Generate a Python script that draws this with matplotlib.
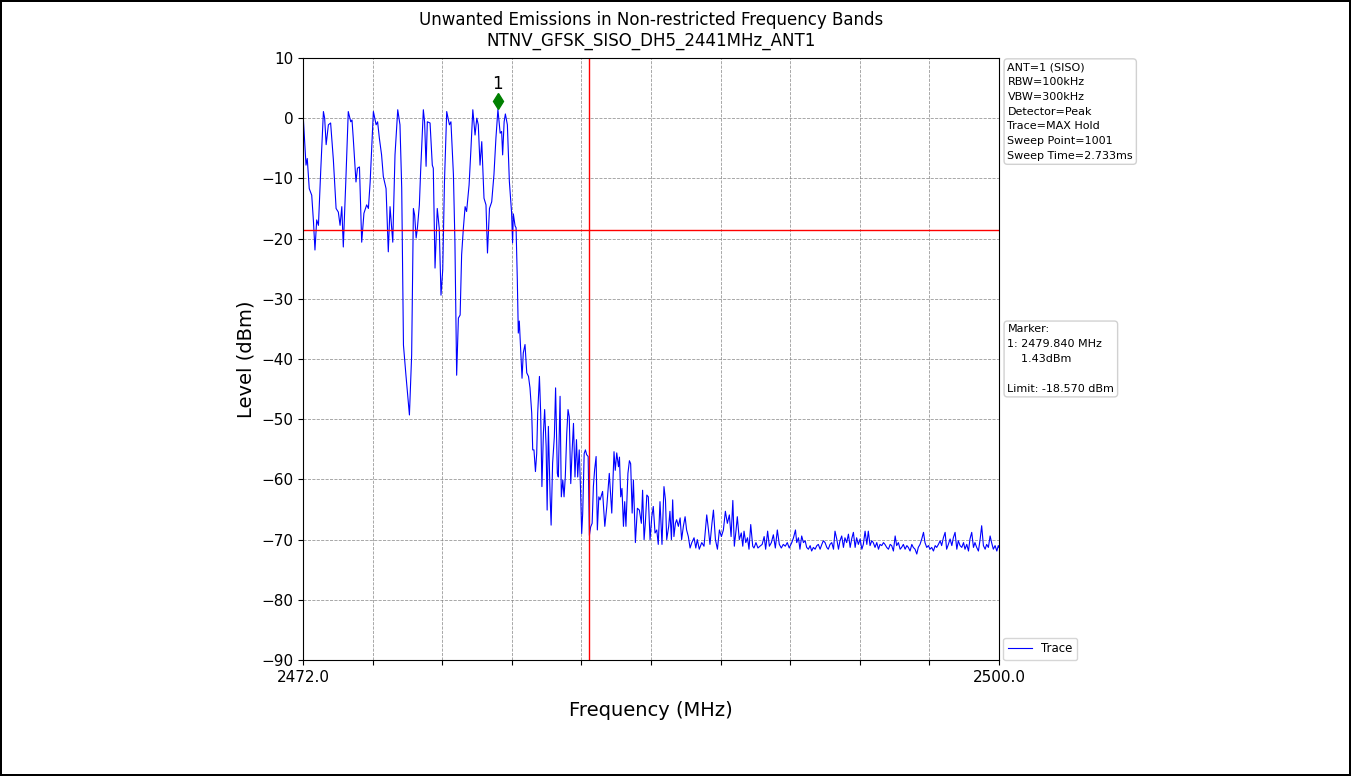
import matplotlib
matplotlib.use("Agg")
import matplotlib.pyplot as plt
import matplotlib.transforms as mtransforms
import numpy as np

# ─── Trace (MHz, dBm) ──────────────────────────────────────────────────────
freq_mhz = [
    2472.00, 2472.12, 2472.17, 2472.25, 2472.35, 2472.42, 2472.48, 2472.55, 2472.62, 2472.71,
    2472.82, 2472.87, 2472.93, 2473.02, 2473.11, 2473.22, 2473.33, 2473.42, 2473.49, 2473.56,
    2473.62, 2473.72, 2473.82, 2473.92, 2473.97, 2474.02, 2474.13, 2474.19, 2474.27, 2474.36,
    2474.45, 2474.56, 2474.63, 2474.70, 2474.83, 2474.94, 2475.00, 2475.07, 2475.16, 2475.23,
    2475.34, 2475.43, 2475.50, 2475.61, 2475.70, 2475.81, 2475.90, 2475.97, 2476.04, 2476.14,
    2476.28, 2476.37, 2476.44, 2476.49, 2476.55, 2476.60, 2476.68, 2476.73, 2476.84, 2476.89,
    2476.95, 2477.00, 2477.11, 2477.20, 2477.24, 2477.31, 2477.40, 2477.48, 2477.55, 2477.62,
    2477.69, 2477.78, 2477.89, 2477.95, 2478.05, 2478.11, 2478.18, 2478.25, 2478.32, 2478.38,
    2478.45, 2478.52, 2478.58, 2478.68, 2478.75, 2478.83, 2478.92, 2478.99, 2479.05, 2479.12,
    2479.19, 2479.28, 2479.36, 2479.42, 2479.50, 2479.59, 2479.68, 2479.76, 2479.84, 2479.93,
    2479.99, 2480.03, 2480.09, 2480.14, 2480.22, 2480.30, 2480.39, 2480.43, 2480.46, 2480.53,
    2480.57, 2480.62, 2480.66, 2480.70, 2480.76, 2480.81, 2480.86, 2480.93, 2481.00, 2481.07,
    2481.13, 2481.20, 2481.24, 2481.29, 2481.35, 2481.40, 2481.44, 2481.51, 2481.56, 2481.61,
    2481.67, 2481.72, 2481.78, 2481.82, 2481.87, 2481.94, 2481.98, 2482.04, 2482.11, 2482.16,
    2482.23, 2482.27, 2482.34, 2482.39, 2482.45, 2482.50, 2482.55, 2482.61, 2482.66, 2482.71,
    2482.77, 2482.82, 2482.88, 2482.94, 2483.00, 2483.05, 2483.11, 2483.16, 2483.21, 2483.25,
    2483.31, 2483.36, 2483.41, 2483.47, 2483.52, 2483.57, 2483.63, 2483.68, 2483.73, 2483.79,
    2483.84, 2483.90, 2483.95, 2484.05, 2484.14, 2484.22, 2484.32, 2484.42, 2484.51, 2484.56,
    2484.62, 2484.69, 2484.73, 2484.78, 2484.83, 2484.89, 2484.94, 2484.99, 2485.07, 2485.13,
    2485.18, 2485.24, 2485.29, 2485.37, 2485.45, 2485.53, 2485.61, 2485.66, 2485.72, 2485.77,
    2485.83, 2485.89, 2485.96, 2486.03, 2486.09, 2486.16, 2486.23, 2486.29, 2486.36, 2486.44,
    2486.52, 2486.58, 2486.63, 2486.71, 2486.76, 2486.82, 2486.87, 2486.92, 2486.98, 2487.03,
    2487.10, 2487.17, 2487.23, 2487.30, 2487.37, 2487.43, 2487.50, 2487.57, 2487.64, 2487.73,
    2487.80, 2487.86, 2487.94, 2488.04, 2488.13, 2488.24, 2488.31, 2488.37, 2488.45, 2488.51,
    2488.59, 2488.67, 2488.75, 2488.83, 2488.91, 2488.99, 2489.07, 2489.15, 2489.22, 2489.29,
    2489.35, 2489.42, 2489.47, 2489.55, 2489.63, 2489.69, 2489.74, 2489.81, 2489.88, 2489.94,
    2490.01, 2490.09, 2490.14, 2490.22, 2490.30, 2490.38, 2490.47, 2490.55, 2490.61, 2490.69,
    2490.76, 2490.84, 2490.92, 2491.00, 2491.08, 2491.16, 2491.24, 2491.32, 2491.40, 2491.48,
    2491.56, 2491.66, 2491.73, 2491.81, 2491.86, 2491.93, 2491.99, 2492.06, 2492.13, 2492.20,
    2492.26, 2492.33, 2492.40, 2492.46, 2492.53, 2492.60, 2492.67, 2492.73, 2492.80, 2492.87,
    2492.93, 2493.00, 2493.07, 2493.13, 2493.20, 2493.27, 2493.34, 2493.40, 2493.47, 2493.54,
    2493.60, 2493.67, 2493.74, 2493.80, 2493.87, 2493.94, 2494.01, 2494.07, 2494.14, 2494.21,
    2494.27, 2494.34, 2494.41, 2494.48, 2494.54, 2494.61, 2494.68, 2494.74, 2494.81, 2494.88,
    2494.94, 2495.01, 2495.08, 2495.15, 2495.21, 2495.28, 2495.35, 2495.41, 2495.48, 2495.55,
    2495.62, 2495.68, 2495.75, 2495.82, 2495.88, 2495.95, 2496.02, 2496.08, 2496.15, 2496.22,
    2496.29, 2496.35, 2496.42, 2496.49, 2496.55, 2496.62, 2496.69, 2496.75, 2496.82, 2496.89,
    2496.96, 2497.02, 2497.09, 2497.16, 2497.22, 2497.29, 2497.36, 2497.43, 2497.49, 2497.56,
    2497.63, 2497.69, 2497.76, 2497.83, 2497.89, 2497.96, 2498.03, 2498.10, 2498.16, 2498.23,
    2498.30, 2498.36, 2498.43, 2498.50, 2498.57, 2498.63, 2498.70, 2498.77, 2498.83, 2498.90,
    2498.97, 2499.03, 2499.10, 2499.17, 2499.24, 2499.30, 2499.37, 2499.44, 2499.50, 2499.57,
    2499.64, 2499.70, 2499.77, 2499.84, 2499.91, 2499.97, 2500.00,
]
level_dbm = [
    0.8, -7.8, -6.7, -11.7, -12.8, -17.2, -21.9, -16.9, -17.8, -8.9,
    1.1, 0.0, -4.4, -1.1, -0.8, -6.9, -15.0, -15.6, -17.8, -14.7,
    -21.4, -10.6, 1.1, -0.6, -0.3, -3.3, -10.6, -8.3, -8.1, -20.6,
    -15.8, -14.4, -15.0, -10.6, 1.1, -1.1, -0.6, -3.3, -6.1, -9.7,
    -11.7, -22.2, -14.7, -20.6, -6.1, 1.4, -1.1, -11.6, -37.7, -42.7,
    -49.3, -39.3, -15.0, -16.1, -19.9, -18.3, -14.4, -8.9, 1.4, -0.6,
    -8.0, -0.6, -0.8, -7.8, -8.3, -24.9, -15.0, -18.3, -29.4, -25.2,
    -10.5, 1.1, -1.1, -0.6, -9.4, -20.5, -42.7, -33.2, -32.7, -22.7,
    -18.3, -14.7, -15.5, -11.1, -5.5, 1.4, -2.8, 0.0, -1.1, -7.8,
    -3.9, -13.3, -14.4, -22.4, -15.0, -13.9, -9.4, -3.3, 1.43, -2.5,
    -2.2, -6.1, -0.6, 0.7, -1.1, -10.5, -15.7, -20.7, -15.9, -17.9,
    -18.2, -26.8, -35.7, -33.7, -39.0, -43.2, -39.0, -37.6, -42.3, -42.9,
    -44.8, -49.0, -55.1, -55.1, -58.7, -55.7, -49.0, -42.9, -49.0, -61.2,
    -52.3, -48.4, -54.6, -65.1, -51.2, -62.9, -67.6, -57.3, -52.9, -44.8,
    -59.0, -59.6, -46.2, -62.9, -60.1, -62.9, -59.6, -52.3, -48.4, -49.6,
    -60.7, -55.7, -50.7, -59.6, -53.4, -59.6, -55.1, -61.2, -69.0, -65.7,
    -55.7, -55.1, -55.9, -56.2, -69.3, -67.9, -67.3, -61.2, -58.4, -56.2,
    -68.4, -62.9, -63.4, -62.0, -67.8, -64.5, -59.0, -65.6, -55.4, -58.5,
    -55.6, -57.9, -56.3, -62.9, -61.5, -67.8, -63.7, -67.8, -59.0, -56.9,
    -57.4, -65.6, -60.1, -70.5, -64.8, -65.1, -67.3, -61.8, -70.0, -67.3,
    -62.6, -62.9, -70.0, -66.2, -64.5, -68.9, -68.4, -70.8, -63.7, -70.8,
    -61.2, -63.4, -70.0, -67.8, -65.3, -70.0, -63.4, -69.5, -67.3, -66.7,
    -67.8, -66.4, -70.0, -67.8, -66.2, -68.4, -69.5, -71.4, -70.5, -69.7,
    -71.4, -70.0, -71.6, -70.5, -71.1, -65.9, -68.4, -70.8, -67.3, -65.1,
    -70.0, -71.6, -68.4, -69.5, -68.4, -65.3, -67.3, -65.9, -69.5, -63.5,
    -71.1, -68.4, -66.2, -70.0, -68.9, -71.1, -68.6, -70.5, -69.7, -71.6,
    -67.5, -71.1, -71.4, -70.5, -71.4, -71.1, -70.8, -69.5, -71.6, -68.6,
    -71.1, -70.5, -69.2, -71.4, -68.4, -70.8, -71.4, -70.8, -71.1, -70.5,
    -71.4, -70.5, -69.7, -68.4, -70.5, -69.7, -71.6, -69.4, -70.5, -70.2,
    -71.3, -71.6, -71.0, -71.9, -71.3, -71.6, -71.0, -70.8, -71.6, -70.8,
    -70.2, -70.5, -71.3, -71.6, -70.8, -70.5, -71.6, -68.6, -69.9, -71.6,
    -70.2, -69.4, -71.3, -69.7, -70.5, -69.1, -71.3, -69.9, -68.8, -71.3,
    -69.7, -70.8, -69.9, -71.6, -70.8, -68.6, -70.8, -68.6, -71.0, -70.2,
    -70.5, -71.3, -70.5, -71.6, -70.8, -71.0, -70.5, -70.8, -71.3, -71.6,
    -70.8, -71.0, -71.9, -69.4, -71.0, -70.5, -71.6, -71.3, -70.8, -71.6,
    -71.0, -71.3, -71.9, -70.8, -71.3, -71.6, -72.4, -71.3, -70.8, -69.9,
    -68.8, -70.5, -71.3, -71.0, -71.6, -71.3, -71.9, -71.0, -71.3, -70.8,
    -70.2, -71.0, -69.7, -68.8, -71.6, -70.8, -69.9, -71.0, -69.7, -68.8,
    -71.6, -70.2, -71.0, -71.3, -70.5, -71.6, -70.8, -71.9, -69.9, -68.8,
    -71.3, -70.5, -71.3, -71.9, -69.9, -67.7, -71.0, -71.6, -70.8, -71.3,
    -69.4, -70.5, -71.6, -71.0, -71.9, -71.0, -71.3,
]

# ─── Measurement settings ──────────────────────────────────────────────────
START_MHZ = 2472.0
STOP_MHZ = 2500.0
BAND_EDGE_MHZ = 2483.5
LIMIT_DBM = -18.570
MARKER_MHZ = 2479.840
MARKER_DBM = 1.43

SETTINGS = [
    "ANT=1 (SISO)",
    "RBW=100kHz",
    "VBW=300kHz",
    "Detector=Peak",
    "Trace=MAX Hold",
    "Sweep Point=1001",
    "Sweep Time=2.733ms",
]

x_ticks = np.linspace(START_MHZ, STOP_MHZ, 11)
x_tick_labels = [f"{START_MHZ:.1f}"] + [""] * 9 + [f"{STOP_MHZ:.1f}"]
y_ticks = np.arange(-90, 11, 10)

fig = plt.figure(figsize=(13.51, 7.76), dpi=100)
fig.patch.set_edgecolor("black")
fig.patch.set_linewidth(1.5)
ax = fig.add_axes([0.2243, 0.1495, 0.5152, 0.7758])

ax.plot(freq_mhz, level_dbm, color="blue", linewidth=0.8, label="Trace")
ax.axhline(LIMIT_DBM, color="red", linewidth=1.0)
ax.axvline(BAND_EDGE_MHZ, color="red", linewidth=1.0)

# marker diamond sits slightly above the peak it points at
up = mtransforms.offset_copy(ax.transData, fig=fig, x=0, y=9, units="dots")
ax.plot([MARKER_MHZ], [MARKER_DBM], "d", color="green", markersize=8,
        transform=up)
up_txt = mtransforms.offset_copy(ax.transData, fig=fig, x=0, y=17, units="dots")
ax.text(MARKER_MHZ, MARKER_DBM, "1", transform=up_txt, ha="center",
        va="bottom", fontsize=12)

ax.set_xlim(START_MHZ, STOP_MHZ)
ax.set_ylim(-90, 10)
ax.set_xticks(x_ticks)
ax.set_xticklabels(x_tick_labels)
ax.set_yticks(y_ticks)
ax.tick_params(labelsize=11)
ax.grid(True, linestyle="--", color="gray", linewidth=0.6, alpha=0.8)

ax.set_xlabel("Frequency (MHz)", fontsize=14, labelpad=12)
ax.set_ylabel("Level (dBm)", fontsize=14)
ax.set_title("Unwanted Emissions in Non-restricted Frequency Bands\n"
             "NTNV_GFSK_SISO_DH5_2441MHz_ANT1", fontsize=12, pad=9)

box = dict(boxstyle="round,pad=0.3", facecolor="white", edgecolor="#cccccc",
           alpha=0.9)
ax.text(1.012, 0.993, "\n".join(SETTINGS), transform=ax.transAxes,
        ha="left", va="top", fontsize=8, linespacing=1.6, bbox=box)
marker_txt = (f"Marker:\n1: {MARKER_MHZ:.3f} MHz\n    {MARKER_DBM:.2f}dBm\n\n"
              f"Limit: {LIMIT_DBM:.3f} dBm")
ax.text(1.012, 0.5, marker_txt, transform=ax.transAxes,
        ha="left", va="center", fontsize=8, linespacing=1.6, bbox=box)

ax.legend(loc="lower left", bbox_to_anchor=(1.006, 0.0), fontsize=8.5,
          borderaxespad=0.0)

fig.savefig("out.png", dpi=100)
